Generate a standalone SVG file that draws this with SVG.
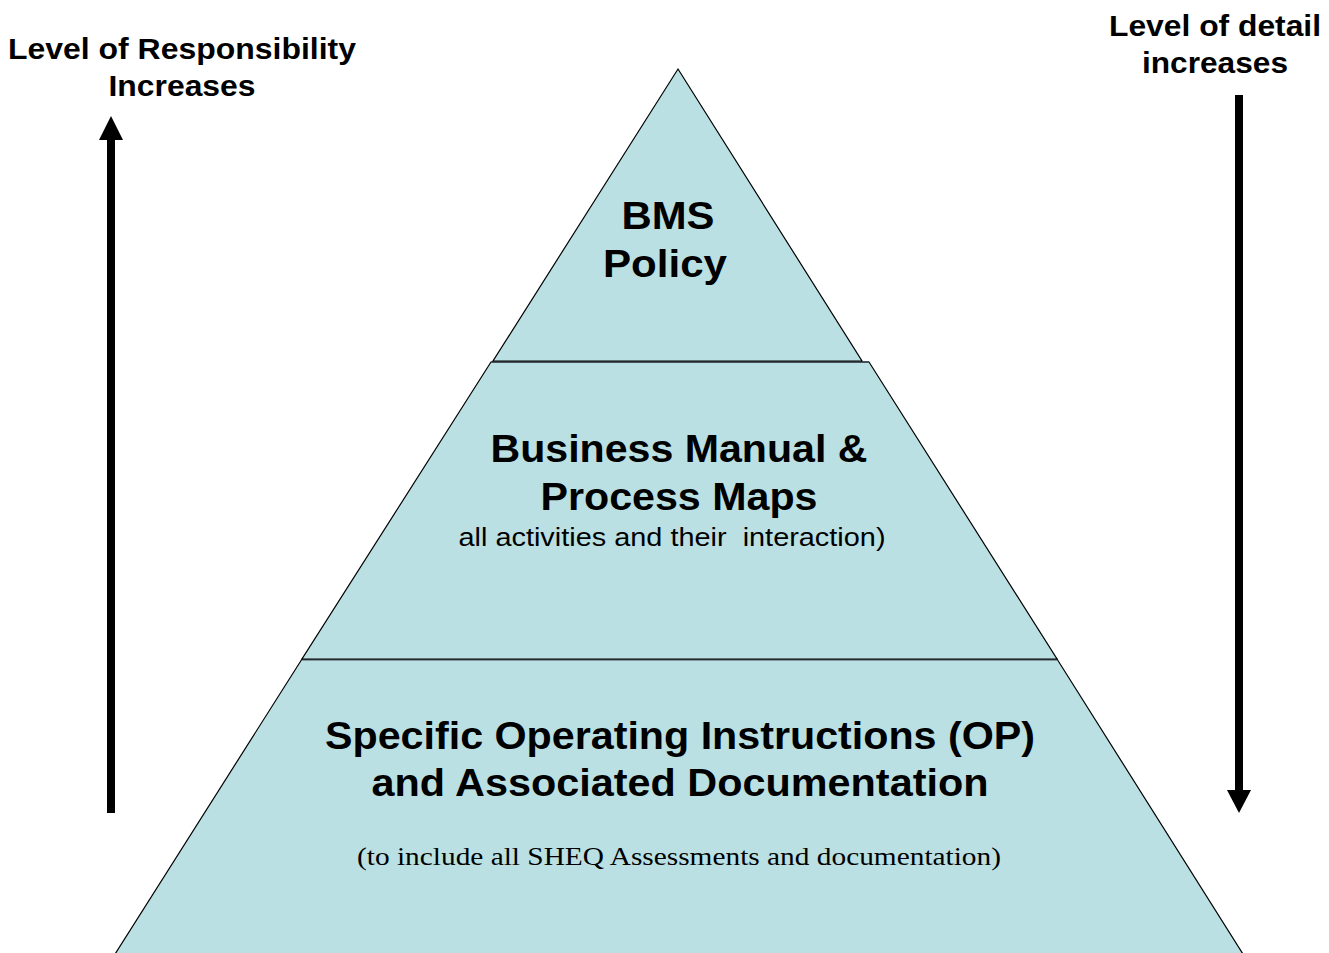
<svg xmlns="http://www.w3.org/2000/svg" width="1329" height="953" viewBox="0 0 1329 953">
  <style>
    .tier { fill: #bae0e3; stroke: #000; stroke-width: 1.2; stroke-linejoin: miter; }
    .sep { stroke: #46525a; fill: none; }
    .h { font-family: "Liberation Sans", Arial, sans-serif; font-weight: bold; fill: #000; text-anchor: middle; }
    .r { font-family: "Liberation Sans", Arial, sans-serif; fill: #000; text-anchor: middle; }
    .s { font-family: "Liberation Serif", "Times New Roman", serif; fill: #000; text-anchor: middle; }
    .arrow { fill: #000; }
  </style>
  <rect width="1329" height="953" fill="#ffffff"/>

  <g id="tier-bottom">
    <polygon class="tier" points="302,659 1057,659 1248,962 110,962"/>
    <line class="sep" x1="302" y1="659" x2="1057" y2="659" stroke-width="3"/>
    <text class="h" x="680" y="749" font-size="38" textLength="710" lengthAdjust="spacingAndGlyphs">Specific Operating Instructions (OP)</text>
    <text class="h" x="680" y="796" font-size="38" textLength="617" lengthAdjust="spacingAndGlyphs">and Associated Documentation</text>
    <text class="s" x="679" y="865" font-size="26" textLength="644" lengthAdjust="spacingAndGlyphs">(to include all SHEQ Assessments and documentation)</text>
  </g>

  <g id="tier-middle">
    <polygon class="tier" points="491,362 869,362 1057,659 302,659"/>
    <line class="sep" x1="491" y1="362" x2="869" y2="362" stroke-width="2"/>
    <text class="h" x="679" y="462" font-size="38" textLength="377" lengthAdjust="spacingAndGlyphs">Business Manual &amp;</text>
    <text class="h" x="679" y="510" font-size="38" textLength="277" lengthAdjust="spacingAndGlyphs">Process Maps</text>
    <text class="r" x="672" y="546" font-size="26" textLength="427" lengthAdjust="spacingAndGlyphs" xml:space="preserve">all activities and their  interaction)</text>
  </g>

  <g id="tier-top">
    <polygon class="tier" points="678,69 862,361 493,361"/>
    <text class="h" x="668" y="229" font-size="39" textLength="93" lengthAdjust="spacingAndGlyphs">BMS</text>
    <text class="h" x="665" y="277" font-size="39" textLength="124" lengthAdjust="spacingAndGlyphs">Policy</text>
  </g>

  <g id="label-responsibility">
    <text class="h" x="182" y="59" font-size="29" textLength="348" lengthAdjust="spacingAndGlyphs">Level of Responsibility</text>
    <text class="h" x="182" y="96" font-size="29" textLength="147" lengthAdjust="spacingAndGlyphs">Increases</text>
  </g>

  <g id="label-detail">
    <text class="h" x="1215" y="36" font-size="29" textLength="212" lengthAdjust="spacingAndGlyphs">Level of detail</text>
    <text class="h" x="1215" y="73" font-size="29" textLength="146" lengthAdjust="spacingAndGlyphs">increases</text>
  </g>

  <g id="connectors">
    <g id="arrow-up">
      <rect class="arrow" x="107" y="139" width="8" height="674"/>
      <polygon class="arrow" points="111,116 123,140 99,140"/>
    </g>
    <g id="arrow-down">
      <rect class="arrow" x="1235" y="95" width="8" height="696"/>
      <polygon class="arrow" points="1227,790 1251,790 1239,813"/>
    </g>
  </g>
</svg>
